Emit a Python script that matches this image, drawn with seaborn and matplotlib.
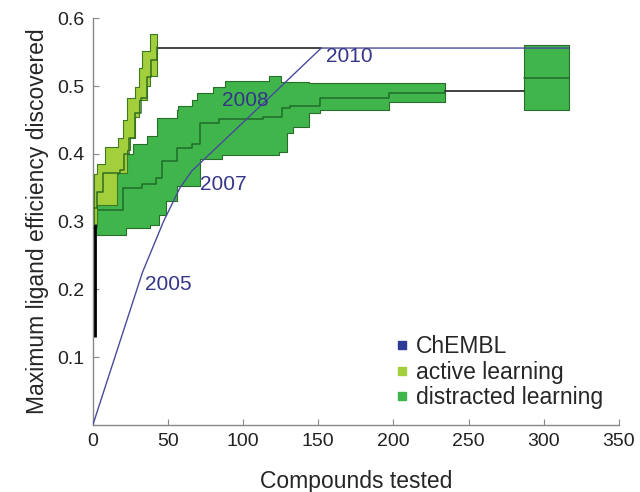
import matplotlib
matplotlib.use("Agg")
import matplotlib.pyplot as plt
import seaborn as sns
import pandas as pd
from matplotlib.lines import Line2D

# ChEMBL year trajectory
chembl_x = [0, 33, 47, 58, 66, 116, 152, 317]
chembl_y = [0, 0.225, 0.30, 0.35, 0.375, 0.48, 0.556, 0.556]
year_labels = ["2005", "2007", "2008", "2010"]
year_x = [35, 71, 86, 155]
year_y = [0.208, 0.355, 0.479, 0.543]

# active learning band (step-post)
act_bx = [1, 3, 8, 16, 17, 20, 22.6, 24.6, 28, 31, 33, 36, 38, 43]
act_hi = [0.37, 0.385, 0.41, 0.41, 0.423, 0.45, 0.483, 0.483, 0.498, 0.527, 0.552, 0.552, 0.577, 0.577]
act_lo = [0.297, 0.324, 0.324, 0.371, 0.371, 0.371, 0.405, 0.424, 0.454, 0.479, 0.479, 0.50, 0.515, 0.515]
act_mx = [1, 3, 7, 18, 21, 24, 28, 32, 36, 39, 43]
act_med = [0.32, 0.343, 0.371, 0.376, 0.40, 0.424, 0.46, 0.483, 0.513, 0.538, 0.557]

# distracted learning band (step-post)
dis_bx = [1, 8, 16, 17, 22, 26.6, 36, 38, 43, 44, 49, 56, 57, 66, 69, 71, 80, 86, 88,
          117.5, 124, 125.5, 129, 133, 144, 151, 197, 234]
dis_hi = [0.33, 0.37, 0.37, 0.40, 0.40, 0.415, 0.427, 0.427, 0.453, 0.453, 0.453, 0.464, 0.471,
          0.48, 0.49, 0.49, 0.498, 0.498, 0.508, 0.515, 0.515, 0.506, 0.506, 0.506, 0.504,
          0.504, 0.504, 0.504]
dis_lo = [0.28, 0.28, 0.28, 0.28, 0.29, 0.29, 0.29, 0.295, 0.295, 0.31, 0.33, 0.352, 0.352,
          0.352, 0.352, 0.393, 0.393, 0.398, 0.398, 0.398, 0.402, 0.402, 0.43, 0.44, 0.46,
          0.464, 0.476, 0.476]
dis_mx = [1, 3, 20, 33, 42, 46, 56, 66, 71, 84, 113, 126, 131, 151, 197, 234]
dis_med = [0.29, 0.317, 0.349, 0.356, 0.364, 0.39, 0.408, 0.415, 0.445, 0.452, 0.455, 0.467,
           0.471, 0.482, 0.489, 0.49]

# end summary box for distracted learning
box_x = [287, 317]
box_lo = 0.465
box_hi = 0.56
box_med = 0.512

# black connecting lines
conn_act_x = [43, 152]
conn_act_y = [0.556, 0.556]
conn_dis_x = [234, 287]
conn_dis_y = [0.493, 0.493]
start_x = [1.3, 1.3]
start_y = [0.13, 0.30]

c_chembl = "#4a4a9c"
c_active = "#a3cf3c"
c_dis = "#3fb54b"
c_edge = "#2a6e2a"

sns.set_style("ticks")
plt.rcParams["font.family"] = ["Liberation Sans", "DejaVu Sans"]

fig, ax = plt.subplots(figsize=(6.4, 4.92), dpi=100)
fig.subplots_adjust(left=0.145, right=0.967, bottom=0.136, top=0.963)

ax.fill_between(dis_bx, dis_lo, dis_hi, step="post", color=c_dis, ec=c_edge, lw=0.8, zorder=2)
sns.lineplot(x=dis_mx, y=dis_med, drawstyle="steps-post", color="#1f6b2a", lw=1.1, ax=ax, zorder=3)
ax.fill_between(act_bx, act_lo, act_hi, step="post", color=c_active, ec="#3d7a22", lw=0.8, zorder=4)
sns.lineplot(x=act_mx, y=act_med, drawstyle="steps-post", color="#2f6e1e", lw=1.1, ax=ax, zorder=5)

ax.fill_between(box_x, [box_lo, box_lo], [box_hi, box_hi], color=c_dis, ec=c_edge, lw=0.8, zorder=2)
sns.lineplot(x=box_x, y=[box_med, box_med], color="#1f6b2a", lw=1.1, ax=ax, zorder=3)

sns.lineplot(x=conn_act_x, y=conn_act_y, color="#222222", lw=1.2, ax=ax, zorder=3)
sns.lineplot(x=conn_dis_x, y=conn_dis_y, color="#222222", lw=1.2, ax=ax, zorder=3)
ax.plot(start_x, start_y, color="black", lw=2, solid_capstyle="butt", zorder=3)

chembl = pd.DataFrame({"x": chembl_x, "y": chembl_y})
sns.lineplot(data=chembl, x="x", y="y", sort=False, color=c_chembl, lw=1.0, ax=ax, zorder=6)

for lab, xx, yy in zip(year_labels, year_x, year_y):
    ax.text(xx, yy, lab, color="#35358a", fontsize=15, ha="left", va="center", zorder=7)

ax.set_xlim(0, 350)
ax.set_ylim(0, 0.6)
ax.set_xticks([0, 50, 100, 150, 200, 250, 300, 350])
ax.set_yticks([0.1, 0.2, 0.3, 0.4, 0.5, 0.6])
ax.set_yticklabels(["0.1", "0.2", "0.3", "0.4", "0.5", "0.6"])
ax.tick_params(direction="in", length=4, color="#888888", labelsize=14, labelcolor="#222222", pad=6)
for s in ["top", "right"]:
    ax.spines[s].set_visible(False)
for s in ["left", "bottom"]:
    ax.spines[s].set_color("#888888")
    ax.spines[s].set_linewidth(1.0)

ax.set_xlabel("Compounds tested", fontsize=16.5, labelpad=14)
ax.set_ylabel("Maximum ligand efficiency discovered", fontsize=16.5, labelpad=6)

handles = [
    Line2D([], [], ls="", marker="s", ms=6, color="#2e3a96"),
    Line2D([], [], ls="", marker="s", ms=6, color=c_active),
    Line2D([], [], ls="", marker="s", ms=6, color=c_dis),
]
ax.legend(handles, ["ChEMBL", "active learning", "distracted learning"], frameon=False,
          fontsize=16.5, loc="lower right", bbox_to_anchor=(1.0, 0.0),
          handletextpad=0.1, labelspacing=0.1, handlelength=1.0, borderpad=0.2)

plt.savefig("out.png", dpi=100)
